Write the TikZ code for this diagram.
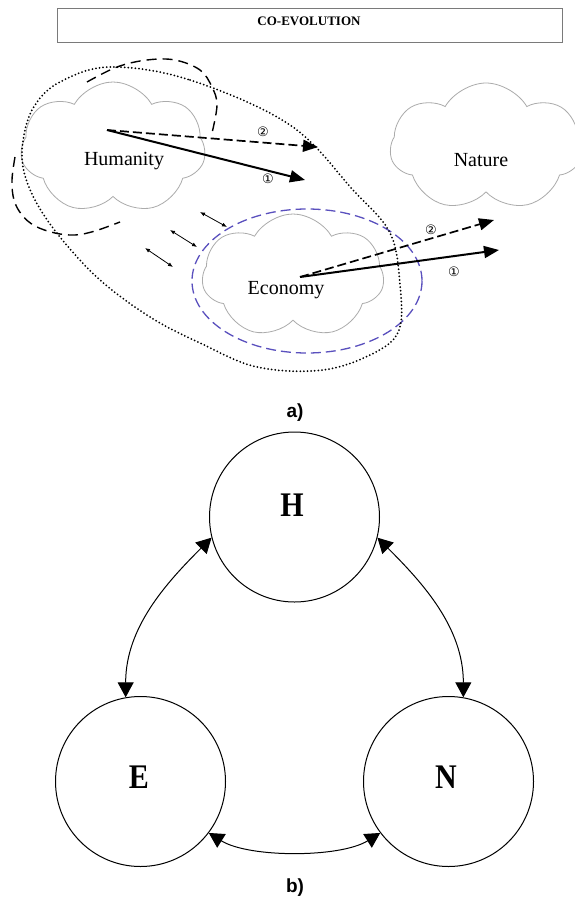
\documentclass[tikz,border=0pt]{standalone}
\usepackage{fontspec}
\setmainfont{Liberation Serif}
\newfontfamily\symfont{DejaVu Sans}
\newfontfamily\labfont{Liberation Sans}
\usetikzlibrary{shapes.symbols,arrows.meta}
\definecolor{cloudgray}{HTML}{ABABAB}
\definecolor{boxgray}{HTML}{7A7A7A}
\definecolor{ellblue}{HTML}{5A50BE}
\begin{document}
\begin{tikzpicture}[x=1pt,y=-1pt,
  cloudbox/.style={cloud, cloud ignores aspect, draw=cloudgray, line width=0.8pt, cloud puffs=7, cloud puff arc=120, inner sep=0pt},
  cloudtext/.style={font=\fontsize{20}{22}\selectfont},
  numtext/.style={font=\symfont\fontsize{13}{14}\selectfont, inner sep=0pt},
  bigsolid/.style={line width=2pt, -{Triangle[length=15pt,width=12pt]}},
  bigdash/.style={line width=1.7pt, dash pattern=on 9pt off 4pt, -{Triangle[length=15pt,width=12pt]}},
  smallarrow/.style={line width=0.8pt, {Latex[length=5pt,width=4pt]}-{Latex[length=5pt,width=4pt]}},
  dotline/.style={line width=2pt, dash pattern=on 0pt off 3.6pt, line cap=round},
  longdash/.style={line width=1.4pt, dash pattern=on 10pt off 6pt},
  blueell/.style={draw=ellblue, line width=1.3pt, dash pattern=on 10pt off 5pt},
  bigcirc/.style={circle, draw, line width=1pt, minimum size=170pt, inner sep=0pt},
  bigletter/.style={font=\bfseries\fontsize{30}{32}\selectfont, inner sep=0pt},
  conn/.style={line width=1pt, {Triangle[length=15pt,width=16pt]}-{Triangle[length=15pt,width=16pt]}},
  partlabel/.style={font=\labfont\bfseries\fontsize{19}{21}\selectfont, inner sep=0pt}
]
\useasboundingbox (0,0) rectangle (574,899);
\fill[white] (0,0) rectangle (574,899);

% title
\node[draw=boxgray, line width=1pt, minimum width=505pt, minimum height=34pt, inner sep=0pt] (titlebox) at (309.5,26) {};
\node[font=\bfseries\fontsize{13}{14}\selectfont, inner sep=0pt] (title) at (309,21) {CO-EVOLUTION};

% clouds
\node[cloudbox, minimum width=185pt, minimum height=132pt] (hcloud) at (113,148) {};
\node[cloudbox, minimum width=192pt, minimum height=128pt] (ncloud) at (486,147) {};
\node[cloudbox, minimum width=182pt, minimum height=124pt] (ecloud) at (293,276) {};
\node[cloudtext] (hum) at (124,161) {Humanity};
\node[cloudtext] (nat) at (481,160) {Nature};
\node[cloudtext] (eco) at (286,290) {Economy};

% economy ellipse
\draw[blueell] (307,281) ellipse [x radius=115, y radius=72];

% dotted envelope
\draw[dotline] plot[smooth cycle, tension=0.6] coordinates {(110,67) (190,80) (290,125) (353,190) (390,233) (400,285) (399,330) (374,353) (323,370) (257,367) (200,343) (150,317) (100,280) (60,237) (35,200) (23,167) (24,135) (35,105) (60,82)};

% humanity dashed loop
\draw[longdash] plot[smooth, tension=0.6] coordinates {(87,82) (117,67) (147,60) (175,60) (200,70) (212,87) (217,105) (212,133)};
\draw[longdash] plot[smooth, tension=0.6] coordinates {(15,157) (12,180) (14,200) (22,215) (35,226) (55,233) (75,235) (95,231) (120,222)};

% humanity arrows
\coordinate (hstart) at (107,130);
\coordinate (h1) at (305,180);
\coordinate (h2) at (318,147);
\draw[bigdash] (hstart) -- (h2);
\draw[bigsolid] (hstart) -- (h1);
\node[numtext] (hn2) at (263,132) {②};
\node[numtext] (hn1) at (268,179) {①};

% economy arrows
\coordinate (estart) at (300,277);
\coordinate (e1) at (499,250);
\coordinate (e2) at (494,220);
\draw[bigdash] (estart) -- (e2);
\draw[bigsolid] (estart) -- (e1);
\node[numtext] (en2) at (431,230) {②};
\node[numtext] (en1) at (454,272) {①};

% small interaction arrows
\coordinate (sa1) at (200,212); \coordinate (sa2) at (227,227);
\coordinate (sb1) at (170,230); \coordinate (sb2) at (197,247);
\coordinate (sc1) at (145,248); \coordinate (sc2) at (173,267);
\draw[smallarrow] (sa1) -- (sa2);
\draw[smallarrow] (sb1) -- (sb2);
\draw[smallarrow] (sc1) -- (sc2);

\node[partlabel] (la) at (295,413) {a)};

% part b
\node[bigcirc] (H) at (294.5,517) {};
\node[bigcirc] (E) at (140.5,781.5) {};
\node[bigcirc] (N) at (448.5,781.5) {};
\node[bigletter] (Hl) at (292,505) {\scalebox{1}[1.15]{H}};
\node[bigletter] (El) at (139,777) {\scalebox{1}[1.15]{E}};
\node[bigletter] (Nl) at (446,777) {\scalebox{1}[1.15]{N}};

\draw[conn] (E.100) .. controls +(0,-70) and +(-45,45) .. (H.194);
\draw[conn] (N.80) .. controls +(0,-70) and +(45,45) .. (H.346);
\draw[conn] (E.-37) .. controls +(40,25) and +(-40,25) .. (N.217);

\node[partlabel] (lb) at (295,888) {b)};
\end{tikzpicture}
\end{document}
